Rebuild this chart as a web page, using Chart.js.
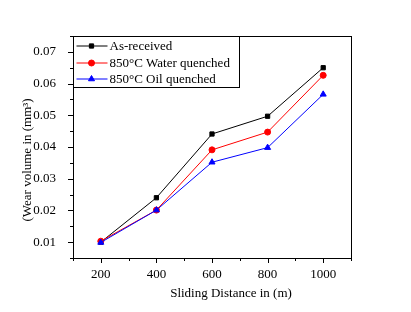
<!DOCTYPE html>
<html>
<head>
<meta charset="utf-8">
<script src="https://cdn.jsdelivr.net/npm/chart.js@4.4.0/dist/chart.umd.min.js"></script>
<style>
  html, body { margin: 0; padding: 0; background: #fff; }
  #wrap { width: 411px; height: 312px; }
</style>
</head>
<body>
<div id="wrap"><canvas id="myChart" width="411" height="312"></canvas></div>
<script>
// sliding distance (m)
const distance = [200, 400, 600, 800, 1000];
// wear volume (mm^3)
const asReceived = [0.0100, 0.0240, 0.0441, 0.0497, 0.0650];
const waterQuenched = [0.0103, 0.0201, 0.0391, 0.0447, 0.0626];
const oilQuenched = [0.0099, 0.0201, 0.0352, 0.0398, 0.0566];

const seriesNames = ['As-received', '850°C Water quenched', '850°C Oil quenched'];
const xTicks = [200, 400, 600, 800, 1000];
const yTicks = [0.01, 0.02, 0.03, 0.04, 0.05, 0.06, 0.07];

const xTitle = 'Sliding Distance in (m)';
const yTitle = '(Wear volume in (mm³)';

const FONT = "'Liberation Serif', 'Times New Roman', serif";

const toPoints = (ys) => distance.map((d, i) => ({ x: d, y: ys[i] }));

// frame, outward ticks (major + minor), axis titles, boxed legend
const decor = {
  id: 'decor',
  afterDraw(chart) {
    const ctx = chart.ctx;
    const a = chart.chartArea;
    const xs = chart.scales.x, ys = chart.scales.y;
    ctx.save();
    ctx.strokeStyle = '#000';
    ctx.lineWidth = 1;
    ctx.strokeRect(Math.round(a.left) + 0.5, Math.round(a.top) + 0.5,
      Math.round(a.right - a.left), Math.round(a.bottom - a.top));

    ctx.beginPath();
    for (let v = 100; v <= 1100; v += 100) {
      const px = Math.round(xs.getPixelForValue(v)) + 0.5;
      const len = (v % 200 === 0) ? 5 : 3;
      ctx.moveTo(px, a.bottom);
      ctx.lineTo(px, a.bottom + len);
    }
    for (let k = 1; k <= 15; k++) {
      const v = k * 0.005;
      const py = Math.round(ys.getPixelForValue(v)) + 0.5;
      const len = (k % 2 === 0) ? 5 : 3;
      ctx.moveTo(a.left, py);
      ctx.lineTo(a.left - len, py);
    }
    ctx.stroke();

    // titles
    ctx.fillStyle = '#000';
    ctx.font = '13px ' + FONT;
    ctx.textAlign = 'center';
    ctx.textBaseline = 'middle';
    ctx.fillText(xTitle, 231, 294);
    ctx.save();
    ctx.translate(28, 160);
    ctx.rotate(-Math.PI / 2);
    ctx.fillText(yTitle, 0, 0);
    ctx.restore();

    // legend
    const lx = Math.round(a.left) + 0.5, ly = Math.round(a.top) + 0.5;
    ctx.fillStyle = '#fff';
    ctx.fillRect(lx, ly, 166, 51);
    ctx.strokeRect(lx, ly, 166, 51);
    const rows = [9.5, 26.5, 42.5];
    chart.data.datasets.forEach((ds, i) => {
      const y = ly + rows[i];
      ctx.strokeStyle = ds.borderColor;
      ctx.beginPath();
      ctx.moveTo(lx + 3, y);
      ctx.lineTo(lx + 34, y);
      ctx.stroke();
      ctx.fillStyle = ds.borderColor;
      Chart.helpers.drawPoint(ctx, {
        pointStyle: ds.pointStyle, radius: ds.pointRadius, rotation: 0,
        borderWidth: 1
      }, lx + 18, y);
      ctx.fillStyle = '#000';
      ctx.textAlign = 'left';
      ctx.fillText(ds.label, lx + 36, y + 1);
    });
    ctx.restore();
  }
};

const makeSet = (label, ys, color, style, radius, order) => ({
  label: label,
  data: toPoints(ys),
  borderColor: color,
  backgroundColor: color,
  pointBackgroundColor: color,
  pointBorderColor: color,
  pointStyle: style,
  pointRadius: radius,
  pointBorderWidth: 1,
  borderWidth: 1,
  tension: 0,
  order: order,
});

new Chart(document.getElementById('myChart').getContext('2d'), {
  type: 'line',
  data: {
    datasets: [
      makeSet(seriesNames[0], asReceived, '#000000', 'rect', 3, 3),
      makeSet(seriesNames[1], waterQuenched, '#ff0000', 'circle', 3, 2),
      makeSet(seriesNames[2], oilQuenched, '#0000ff', 'triangle', 3.5, 1),
    ],
  },
  options: {
    responsive: false,
    animation: false,
    maintainAspectRatio: false,
    layout: { padding: { left: 0, right: 60, top: 36, bottom: 0 } },
    plugins: { legend: { display: false }, tooltip: { enabled: false } },
    scales: {
      x: {
        type: 'linear',
        min: 100,
        max: 1100,
        grid: { display: false },
        border: { display: false },
        afterBuildTicks: (s) => { s.ticks = xTicks.map(v => ({ value: v })); },
        afterFit: (s) => { s.height = 54; },
        ticks: {
          color: '#000', padding: 1, maxRotation: 0, font: { family: FONT, size: 13 },
          callback: (v) => String(v),
        },
      },
      y: {
        min: 0.005,
        max: 0.075,
        grid: { display: false },
        border: { display: false },
        afterBuildTicks: (s) => { s.ticks = yTicks.map(v => ({ value: v })); },
        afterFit: (s) => { s.width = 73; },
        ticks: {
          color: '#000', padding: 9, font: { family: FONT, size: 13 },
          callback: (v) => Number(v).toFixed(2),
        },
      },
    },
  },
  plugins: [decor],
});
</script>
</body>
</html>
